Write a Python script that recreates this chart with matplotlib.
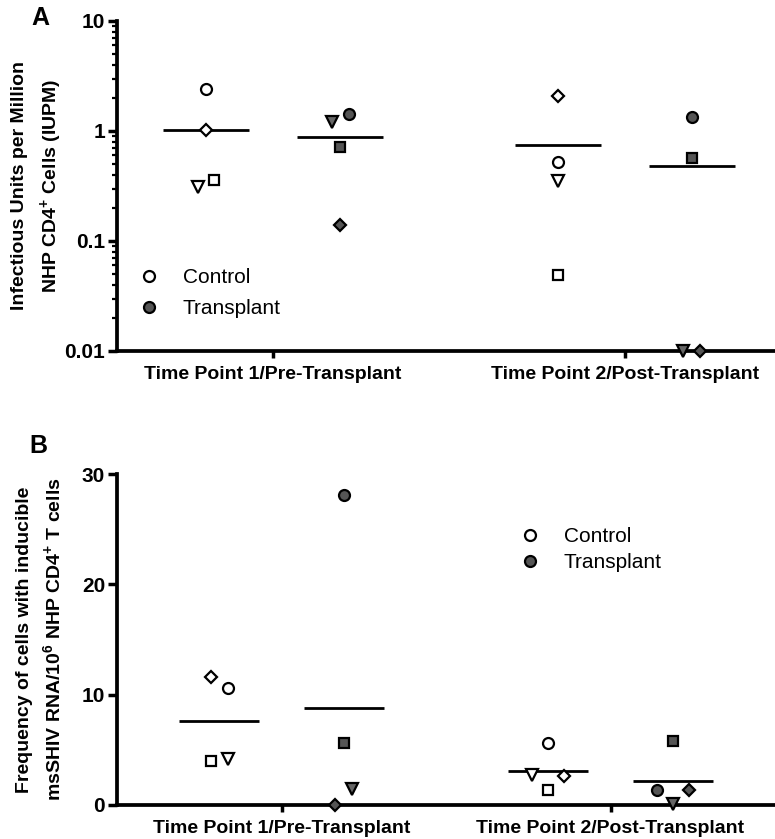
import numpy as np
import matplotlib
matplotlib.use("Agg")
import matplotlib.pyplot as plt
from matplotlib.lines import Line2D
from matplotlib.ticker import LogLocator, NullFormatter

plt.rcParams['font.family'] = ['Liberation Sans', 'DejaVu Sans']
plt.rcParams['mathtext.fontset'] = 'custom'
plt.rcParams['mathtext.bf'] = 'Liberation Sans:bold'
plt.rcParams['mathtext.rm'] = 'Liberation Sans'
plt.rcParams['mathtext.default'] = 'bf'

# ---------------- data ----------------
categories = ["Time Point 1/Pre-Transplant", "Time Point 2/Post-Transplant"]
groups = ["Control", "Transplant"]
subject_markers = ['o', 's', 'v', 'D']   # one marker per animal

# Panel A: IUPM (order: circle, square, triangle, diamond)
A_control_tp1 = [2.39, 0.36, 0.31, 1.02]
A_transplant_tp1 = [1.42, 0.72, 1.22, 0.14]
A_control_tp2 = [0.52, 0.049, 0.35, 2.08]
A_transplant_tp2 = [1.35, 0.57, 0.01, 0.01]

# Panel B: frequency per 10^6 cells
B_control_tp1 = [10.6, 4.0, 4.2, 11.6]
B_transplant_tp1 = [28.1, 5.6, 1.42, 0.0]
B_control_tp2 = [5.6, 1.36, 2.72, 2.66]
B_transplant_tp2 = [1.36, 5.8, 0.06, 1.36]

A_yticks = [0.01, 0.1, 1, 10]
A_yticklabels = ["0.01", "0.1", "1", "10"]
B_yticks = [0, 10, 20, 30]

# ---------------- layout / style ----------------
group_offset = 0.19
half_line = 0.123
# small horizontal nudges so overlapping symbols stay visible (circle, square, triangle, diamond)
A_nudge = {('Control', 0): [0, 0.023, -0.023, 0],
           ('Transplant', 0): [0.026, 0, -0.023, 0],
           ('Control', 1): [0, 0, 0, 0],
           ('Transplant', 1): [0, 0, -0.025, 0.023]}
B_nudge = {('Control', 0): [0.027, -0.024, 0.027, -0.024],
           ('Transplant', 0): [0, 0, 0.025, -0.027],
           ('Control', 1): [0, 0, -0.048, 0.048],
           ('Transplant', 1): [-0.048, 0, 0, 0.048]}

fill = {'Control': 'white', 'Transplant': '#555555'}
tri_fill = {'Control': 'white', 'Transplant': '#666666'}
msize = {'o': 7.9, 's': 7.2, 'v': 8.8, 'D': 6.6}

W, H = 775, 839
fig = plt.figure(figsize=(W / 100, H / 100), dpi=100)

def px_axes(left, top, right, bottom):
    return fig.add_axes([left / W, 1 - bottom / H, (right - left) / W, (bottom - top) / H])

axA = px_axes(117, 21, 775, 351)
axB = px_axes(117, 474, 775, 805)

def draw(ax, data, nudges, xlim):
    for gi, g in enumerate(groups):
        for ti in range(2):
            vals = data[(g, ti)]
            xc = ti + 1 + (-group_offset if g == 'Control' else group_offset)
            for k, (m, v) in enumerate(zip(subject_markers, vals)):
                fc = tri_fill[g] if m == 'v' else fill[g]
                ax.plot([xc + nudges[(g, ti)][k]], [v], linestyle='none', marker=m,
                        markersize=msize[m], markerfacecolor=fc, markeredgecolor='black',
                        markeredgewidth=1.6, clip_on=False, zorder=5)
            mval = np.mean(vals)
            ax.plot([xc - half_line, xc + half_line], [mval, mval], color='black',
                    linewidth=2.0, solid_capstyle='butt', zorder=4)
    ax.set_xlim(*xlim)
    ax.set_xticks([1, 2])
    ax.set_xticklabels(categories, fontsize=14, fontweight='bold')
    for s in ['top', 'right']:
        ax.spines[s].set_visible(False)
    for s in ['left', 'bottom']:
        ax.spines[s].set_linewidth(2.7)
    ax.tick_params(axis='x', which='major', direction='out', length=5, width=2.5, pad=6)
    ax.tick_params(axis='y', which='major', direction='out', length=6.5, width=2.5, pad=2,
                   labelsize=15)
    for lab in ax.get_yticklabels():
        lab.set_fontweight('bold')

dataA = {('Control', 0): A_control_tp1, ('Transplant', 0): A_transplant_tp1,
         ('Control', 1): A_control_tp2, ('Transplant', 1): A_transplant_tp2}
dataB = {('Control', 0): B_control_tp1, ('Transplant', 0): B_transplant_tp1,
         ('Control', 1): B_control_tp2, ('Transplant', 1): B_transplant_tp2}

# Panel A
axA.set_yscale('log')
axA.set_ylim(0.01, 10)
draw(axA, dataA, A_nudge, (0.557, 2.426))
axA.set_yticks(A_yticks)
axA.set_yticklabels(A_yticklabels, fontsize=15, fontweight='bold')
axA.yaxis.set_minor_locator(LogLocator(base=10, subs=np.arange(2, 10)))
axA.yaxis.set_minor_formatter(NullFormatter())
axA.tick_params(axis='y', which='minor', direction='out', length=3.5, width=1.6)
axA.set_ylabel("Infectious Units per Million\nNHP CD4$^{+}$ Cells (IUPM)",
               fontsize=14, fontweight='bold', linespacing=1.55)
axA.yaxis.set_label_coords(-0.08, 0.5)

# Panel B
axB.set_ylim(0, 30)
draw(axB, dataB, B_nudge, (0.5, 2.5))
axB.set_yticks(B_yticks)
axB.set_yticklabels([str(t) for t in B_yticks], fontsize=15, fontweight='bold')
axB.set_ylabel("Frequency of cells with inducible\nmsSHIV RNA/10$^{6}$ NHP CD4$^{+}$ T cells",
               fontsize=14, fontweight='bold', linespacing=1.55)
axB.yaxis.set_label_coords(-0.08, 0.5)

# Legends
def legend(ax, x, y, spacing):
    handles = [Line2D([], [], linestyle='none', marker='o', markersize=7.9,
                      markerfacecolor=fill[g], markeredgecolor='black',
                      markeredgewidth=1.6) for g in groups]
    ax.legend(handles, groups, loc='upper left', bbox_to_anchor=(x / W, 1 - y / H),
              bbox_transform=fig.transFigure, frameon=False, fontsize=15,
              borderaxespad=0, borderpad=0, handlelength=0.8, handletextpad=1.2,
              labelspacing=spacing)

legend(axA, 141, 268, 0.6)
legend(axB, 522, 527, 0.35)

fig.text(40 / W, 1 - 18 / H, "A", fontsize=18, fontweight='bold', ha='center', va='center')
fig.text(38 / W, 1 - 446 / H, "B", fontsize=18, fontweight='bold', ha='center', va='center')

fig.savefig("out.png", dpi=100)
